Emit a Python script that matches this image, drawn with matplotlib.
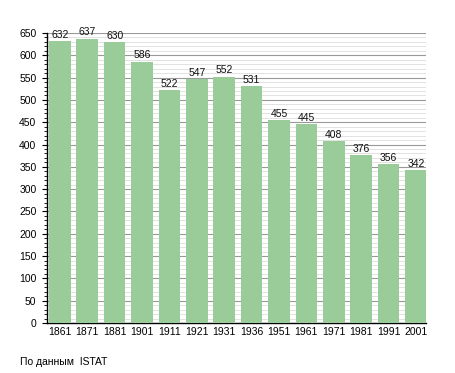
import matplotlib
matplotlib.use("Agg")
import matplotlib.pyplot as plt
from matplotlib.ticker import MultipleLocator

plt.rcParams["font.family"] = ["Liberation Sans", "DejaVu Sans"]

years = ["1861", "1871", "1881", "1901", "1911", "1921", "1931", "1936",
         "1951", "1961", "1971", "1981", "1991", "2001"]
population = [632, 637, 630, 586, 522, 547, 552, 531, 455, 445, 408, 376, 356, 342]

fig = plt.figure(figsize=(4.55, 3.73), dpi=100)
ax = fig.add_axes([0.1033, 0.134, 0.833, 0.7775])

x = range(len(years))
ax.bar(x, population, width=0.79, color="#99CC99", zorder=3)
for xi, v in zip(x, population):
    ax.text(xi, v + 3, str(v), ha="center", va="bottom", fontsize=7.5, color="#111111", zorder=4)

ax.set_xlim(-0.47, 13.37)
ax.set_ylim(0, 650)
ax.set_xticks(list(x))
ax.set_xticklabels(years, fontsize=7.5)
ax.yaxis.set_major_locator(MultipleLocator(50))
ax.yaxis.set_minor_locator(MultipleLocator(10))
ax.tick_params(axis="y", labelsize=7.5, length=3.6, width=0.8, pad=4)
ax.tick_params(axis="y", which="minor", length=2, width=0.6)
ax.tick_params(axis="x", length=0, pad=3)

ax.grid(axis="y", which="major", color="#999999", linewidth=0.8, zorder=0)
ax.grid(axis="y", which="minor", color="#dddddd", linewidth=0.6, zorder=0)

for s in ["top", "right"]:
    ax.spines[s].set_visible(False)
ax.spines["left"].set_linewidth(1.0)
ax.spines["bottom"].set_linewidth(1.0)

fig.text(0.044, 0.016, "По данным  ISTAT", fontsize=7.5, ha="left", va="bottom")

fig.savefig("out.png", dpi=100)
